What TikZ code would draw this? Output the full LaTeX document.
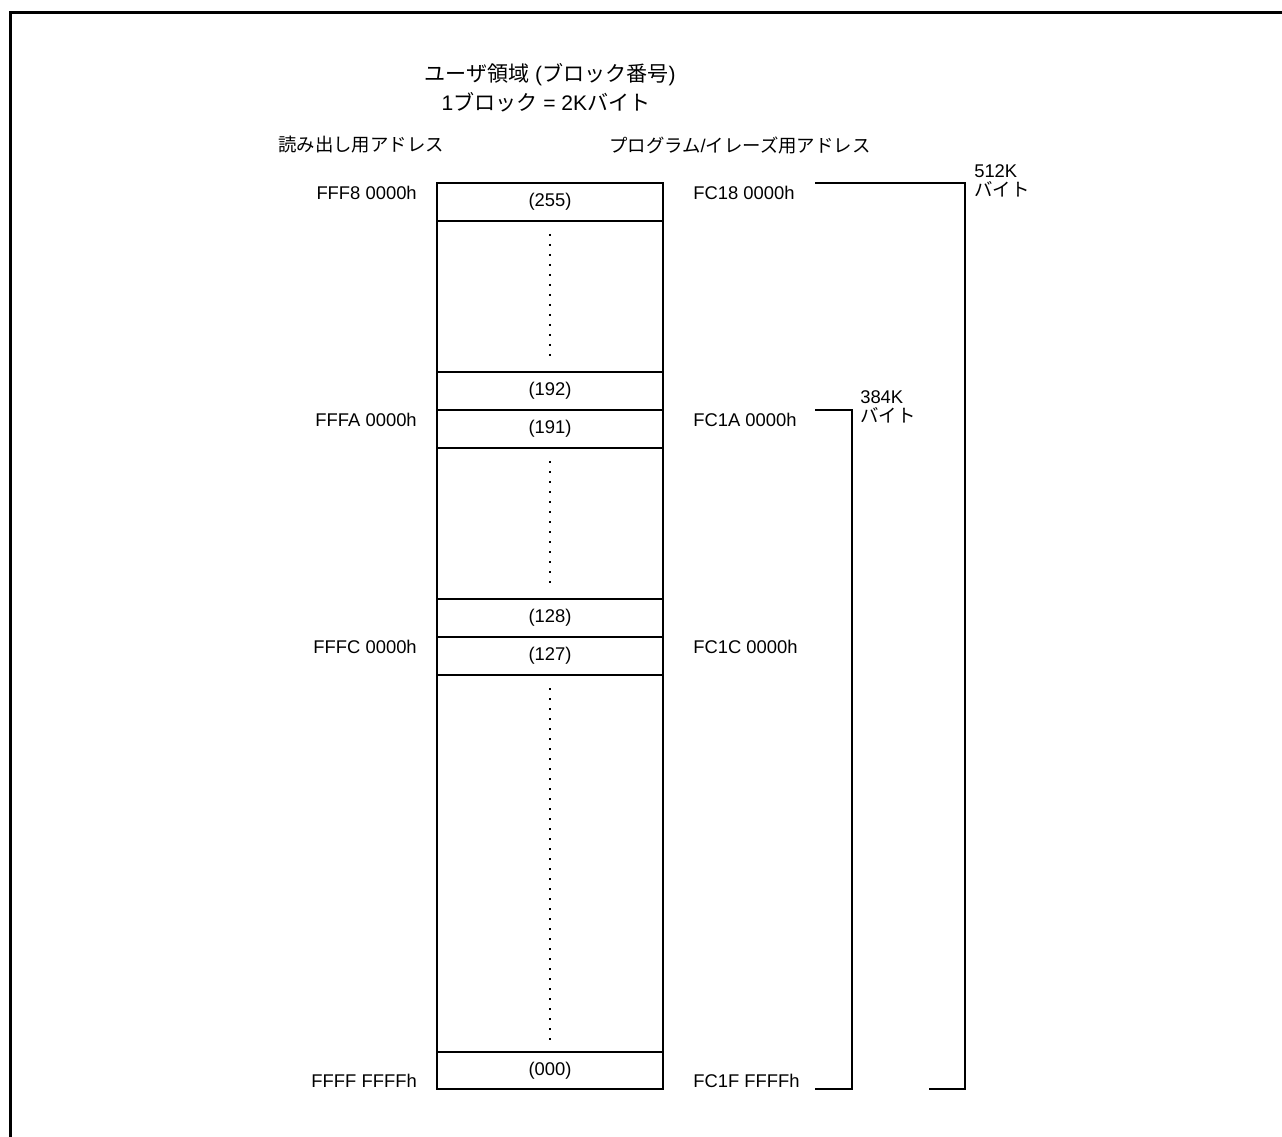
\documentclass[tikz,border=0pt]{standalone}
\usepackage{fontspec}
\setmainfont{Liberation Sans}
\newfontfamily\jp{Noto Sans CJK JP}
\begin{document}
\begin{tikzpicture}[x=0.75pt,y=-0.75pt,
  every node/.style={inner sep=0pt,font=\fontsize{13.8pt}{14.6pt}\selectfont},
  titletext/.style={font=\fontsize{15.8pt}{17pt}\selectfont},
  boxline/.style={line width=1.5pt},
  dotline/.style={line width=1.6pt,dash pattern=on 1.6pt off 5.9pt},
  bracket/.style={line width=1.5pt},
  frame/.style={line width=2.4pt}]
\useasboundingbox (0,0) rectangle (1282,1137);
% frame (top and left sides visible)
\draw[frame] (10.5,1137) -- (10.5,12.5) -- (1282,12.5);
% titles
\node[titletext] (t1) at (550,75) {{\jp ユーザ領域} ({\jp ブロック番号})};
\node[titletext] (t2) at (546,102) {1{\jp ブロック} = 2K{\jp バイト}};
\node[anchor=west] (hl) at (278,145) {\jp 読み出し用アドレス};
\node[anchor=west] (hr) at (609,145) {{\jp プログラム}/{\jp イレーズ用アドレス}};
% memory box
\draw[boxline] (437,183) rectangle (663,1089);
\foreach \y in {221,372,410,448,599,637,675,1052}
  \draw[boxline] (437,\y) -- (663,\y);
\node (b255) at (550,202) {(255)};
\node (b192) at (550,391) {(192)};
\node (b191) at (550,429) {(191)};
\node (b128) at (550,618) {(128)};
\node (b127) at (550,656) {(127)};
\node (b000) at (550,1071) {(000)};
\draw[dotline] (550,234) -- (550,356);
\draw[dotline] (550,461) -- (550,586);
\draw[dotline] (550,688) -- (550,1043);
% left addresses
\node[anchor=east] (la) at (417,193) {FFF8 0000h};
\node[anchor=east] (lb) at (417,420) {FFFA 0000h};
\node[anchor=east] (lc) at (417,647) {FFFC 0000h};
\node[anchor=east] (ld) at (417,1081) {FFFF FFFFh};
% right addresses
\node[anchor=west] (ra) at (693,193) {FC18 0000h};
\node[anchor=west] (rb) at (693,420) {FC1A 0000h};
\node[anchor=west] (rc) at (693,647) {FC1C 0000h};
\node[anchor=west] (rd) at (693,1081) {FC1F FFFFh};
% brackets
\coordinate (p1) at (815,183);
\coordinate (p2) at (965,183);
\coordinate (p3) at (965,1089);
\coordinate (p4) at (929,1089);
\draw[bracket] (p1) -- (p2) -- (p3) -- (p4);
\coordinate (q1) at (815,410);
\coordinate (q2) at (852,410);
\coordinate (q3) at (852,1089);
\coordinate (q4) at (815,1089);
\draw[bracket] (q1) -- (q2) -- (q3) -- (q4);
\node[anchor=north west,align=left] (k512) at (974,164) {512K\\{\jp バイト}};
\node[anchor=north west,align=left] (k384) at (860,390) {384K\\{\jp バイト}};
\end{tikzpicture}
\end{document}
